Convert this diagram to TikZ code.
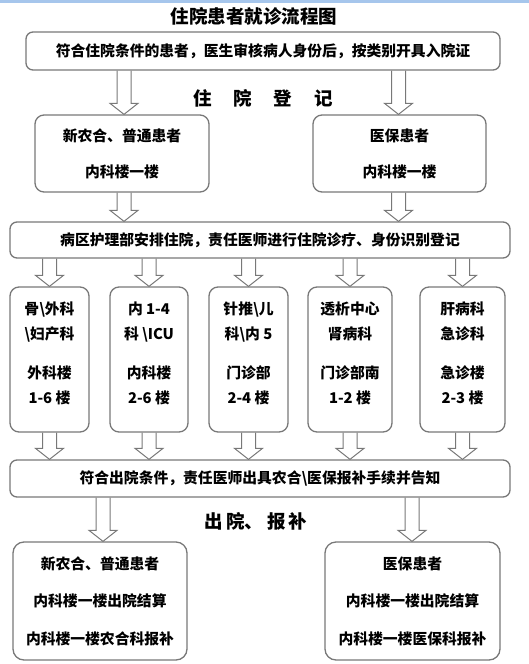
\documentclass[tikz,border=0pt]{standalone}
\usepackage{fontspec}
\usepackage{xcolor}
\usepackage{tikz}
\usetikzlibrary{calc, positioning}
\newfontfamily\cjk{Noto Sans CJK SC}
\definecolor{linegray}{RGB}{120,120,120}
\definecolor{topblue}{RGB}{166,198,236}

\begin{document}
\begin{tikzpicture}[
      x=1pt, y=-1pt,
      box/.style={draw=linegray, line width=1.3pt, rounded corners=9pt,
                  align=center, inner sep=0pt,
                  font=\cjk\bfseries\fontsize{14.8}{25}\selectfont},
      dept/.style={box, minimum height=145pt},
      head/.style={font=\cjk\bfseries\fontsize{18.5}{22}\selectfont},
      blk/.style={draw=linegray, line width=1pt, line join=miter,
                  to path={let \p1=(\tikztostart), \p2=(\tikztotarget) in
                    (\x1-7pt,\y1) -- (\x1-7pt,\y2+11pt) -- (\x1-14pt,\y2+11pt)
                    -- (\x1,\y2) -- (\x1+14pt,\y2+11pt) -- (\x1+7pt,\y2+11pt)
                    -- (\x1+7pt,\y1)}}
    ]
    \useasboundingbox (0,0) rectangle (529,664);
    \fill[topblue] (0,0) rectangle (529,3);

    \node[head] (title) at (254,16) {住院患者就诊流程图};
    \node[box, minimum width=474pt, minimum height=38pt, rounded corners=7pt] (b0) at (263,51)
      {符合住院条件的患者，医生审核病人身份后，按类别开具入院证};
    \node[head] (reg) at (263,98) {住\hspace{22pt}院\hspace{22pt}登\hspace{22pt}记};
    \node[box, minimum width=174pt, minimum height=77pt] (p1) at (122,153.5)
      {新农合、普通患者\\[11pt]内科楼一楼};
    \node[box, minimum width=173pt, minimum height=77pt] (p2) at (399.5,153.5)
      {医保患者\\[11pt]内科楼一楼};
    \node[box, minimum width=500pt, minimum height=36pt, rounded corners=7pt] (ward) at (260,240)
      {病区护理部安排住院，责任医师进行住院诊疗、身份识别登记};

    \node[dept, minimum width=79pt] (d1) at (49.5,359.5)
      {骨\textbackslash 外科\\\textbackslash 妇产科\\[14pt]外科楼\\1-6 楼\\[-11pt]\mbox{}};
    \node[dept, minimum width=78pt] (d2) at (149,359.5)
      {内 1-4\\科 \textbackslash ICU\\[14pt]内科楼\\2-6 楼\\[-11pt]\mbox{}};
    \node[dept, minimum width=79pt] (d3) at (248.5,359.5)
      {针推\textbackslash 儿\\科\textbackslash 内 5\\[14pt]门诊部\\2-4 楼\\[-11pt]\mbox{}};
    \node[dept, minimum width=84pt] (d4) at (350,359.5)
      {透析中心\\肾病科\\[14pt]门诊部南\\1-2 楼\\[-11pt]\mbox{}};
    \node[dept, minimum width=85pt] (d5) at (462.5,359.5)
      {肝病科\\急诊科\\[14pt]急诊楼\\2-3 楼\\[-11pt]\mbox{}};

    \node[box, minimum width=500pt, minimum height=37pt, rounded corners=7pt] (leave) at (260,478.5)
      {符合出院条件，责任医师出具农合\textbackslash 医保报补手续并告知};
    \node[head] (pay) at (256,521) {出\hspace{3pt}院、\hspace{4pt}报\hspace{3pt}补};
    \node[box, minimum width=174pt, minimum height=118pt, rounded corners=11pt] (s1) at (100,601)
      {新农合、普通患者\\[12.5pt]内科楼一楼出院结算\\[12.5pt]内科楼一楼农合科报补};
    \node[box, minimum width=175pt, minimum height=118pt, rounded corners=11pt] (s2) at (412.5,601)
      {医保患者\\[12.5pt]内科楼一楼出院结算\\[12.5pt]内科楼一楼医保科报补};

    \coordinate (cL) at (124,0);
    \coordinate (cR) at (398.5,0);
    \coordinate (eL) at (103,0);
    \coordinate (eR) at (412,0);

    \draw[blk] (b0.south -| cL) to (p1.north -| cL);
    \draw[blk] (b0.south -| cR) to (p2.north -| cR);
    \draw[blk] (p1.south -| cL) to (ward.north -| cL);
    \draw[blk] (p2.south -| cR) to (ward.north -| cR);
    \foreach \d in {d1,d2,d3,d4,d5} {
      \draw[blk] (ward.south -| \d) to (\d.north);
      \draw[blk] (\d.south) to (leave.north -| \d);
    }
    \draw[blk] (leave.south -| eL) to (s1.north -| eL);
    \draw[blk] (leave.south -| eR) to (s2.north -| eR);
  \end{tikzpicture}
\end{document}
